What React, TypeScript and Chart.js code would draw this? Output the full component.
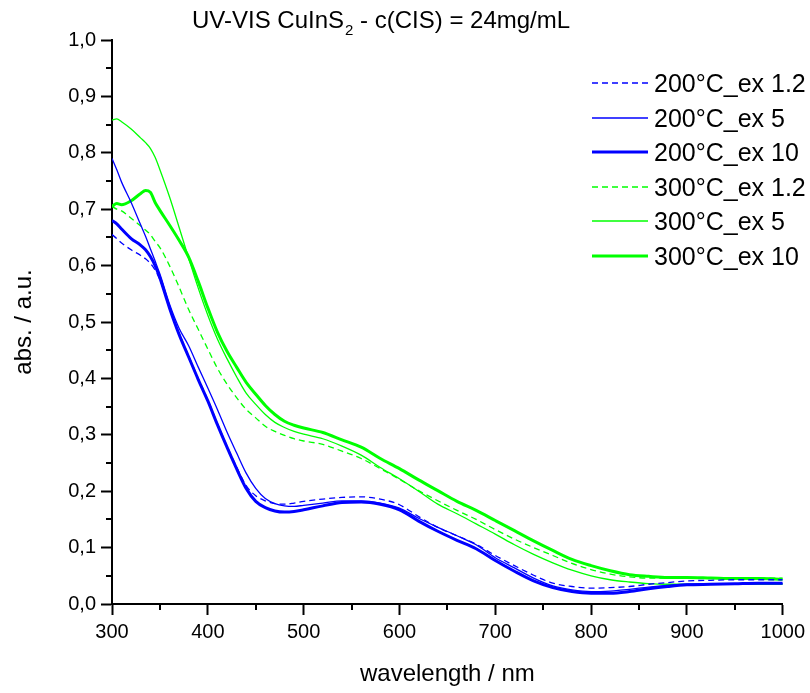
import React, { useEffect, useRef } from "react";
import { Chart, registerables } from "chart.js";

Chart.register(...registerables);

const FONT = '"Liberation Sans", Arial, sans-serif';

const wavelengths = [300, 305, 310, 320, 330, 335, 340, 345, 350, 360, 370, 380, 390, 400, 410, 420, 430, 440, 450, 460, 470, 480, 490, 500, 520, 540, 560, 580, 600, 620, 640, 660, 680, 700, 720, 740, 760, 780, 800, 820, 840, 860, 880, 900, 925, 950, 975, 1000];

const blue12 = [0.655, 0.648, 0.640, 0.628, 0.618, 0.612, 0.604, 0.592, 0.575, 0.525, 0.480, 0.440, 0.400, 0.362, 0.320, 0.280, 0.243, 0.210, 0.192, 0.183, 0.178, 0.177, 0.179, 0.182, 0.186, 0.189, 0.190, 0.186, 0.176, 0.155, 0.136, 0.121, 0.106, 0.086, 0.068, 0.051, 0.037, 0.031, 0.028, 0.029, 0.031, 0.035, 0.038, 0.041, 0.042, 0.043, 0.043, 0.043];
const blue5 = [0.790, 0.770, 0.748, 0.712, 0.672, 0.652, 0.630, 0.608, 0.585, 0.532, 0.489, 0.458, 0.420, 0.383, 0.345, 0.305, 0.268, 0.232, 0.205, 0.187, 0.178, 0.174, 0.173, 0.175, 0.179, 0.183, 0.183, 0.179, 0.170, 0.152, 0.136, 0.121, 0.105, 0.082, 0.064, 0.046, 0.032, 0.025, 0.022, 0.023, 0.026, 0.030, 0.033, 0.035, 0.036, 0.036, 0.036, 0.036];
const blue10 = [0.680, 0.674, 0.665, 0.648, 0.636, 0.628, 0.616, 0.600, 0.578, 0.525, 0.478, 0.438, 0.398, 0.360, 0.318, 0.278, 0.240, 0.205, 0.182, 0.171, 0.165, 0.163, 0.164, 0.167, 0.174, 0.180, 0.181, 0.177, 0.167, 0.147, 0.129, 0.113, 0.098, 0.077, 0.058, 0.041, 0.029, 0.022, 0.019, 0.019, 0.022, 0.027, 0.031, 0.034, 0.035, 0.036, 0.037, 0.037];
const green12 = [0.705, 0.700, 0.697, 0.684, 0.670, 0.663, 0.655, 0.643, 0.632, 0.600, 0.562, 0.522, 0.487, 0.452, 0.418, 0.390, 0.366, 0.345, 0.330, 0.315, 0.306, 0.299, 0.293, 0.289, 0.283, 0.271, 0.258, 0.240, 0.221, 0.201, 0.183, 0.166, 0.150, 0.132, 0.115, 0.100, 0.086, 0.072, 0.061, 0.053, 0.048, 0.046, 0.046, 0.046, 0.046, 0.046, 0.046, 0.046];
const green5 = [0.858, 0.860, 0.855, 0.842, 0.826, 0.818, 0.808, 0.792, 0.770, 0.722, 0.668, 0.613, 0.560, 0.512, 0.470, 0.435, 0.403, 0.374, 0.354, 0.336, 0.322, 0.313, 0.306, 0.301, 0.293, 0.280, 0.264, 0.242, 0.222, 0.200, 0.177, 0.160, 0.142, 0.124, 0.105, 0.088, 0.073, 0.060, 0.050, 0.043, 0.039, 0.036, 0.035, 0.035, 0.035, 0.035, 0.035, 0.035];
const green10 = [0.705, 0.710, 0.708, 0.715, 0.728, 0.733, 0.730, 0.712, 0.698, 0.672, 0.645, 0.615, 0.572, 0.525, 0.482, 0.448, 0.420, 0.393, 0.372, 0.352, 0.336, 0.324, 0.317, 0.312, 0.304, 0.291, 0.278, 0.258, 0.240, 0.220, 0.201, 0.182, 0.166, 0.148, 0.130, 0.112, 0.095, 0.079, 0.068, 0.059, 0.052, 0.049, 0.047, 0.047, 0.046, 0.045, 0.045, 0.044];

const seriesLabels = ["200°C_ex 1.2", "200°C_ex 5", "200°C_ex 10", "300°C_ex 1.2", "300°C_ex 5", "300°C_ex 10"];
const seriesValues = [blue12, blue5, blue10, green12, green5, green10];
const seriesColors = ["#0000FF", "#0000FF", "#0000FF", "#00FF00", "#00FF00", "#00FF00"];
const seriesWidths = [1.3, 1.3, 3, 1.3, 1.3, 3];
const seriesDashes = [[6, 4], [], [], [6, 4], [], []];

const xMajorTicks = [300, 400, 500, 600, 700, 800, 900, 1000];
const xMinorTicks = [350, 450, 550, 650, 750, 850, 950];
const yMinorTicks = [0.05, 0.15, 0.25, 0.35, 0.45, 0.55, 0.65, 0.75, 0.85, 0.95];

const titleMain = "UV-VIS CuInS";
const titleSub = "2";
const titleRest = " - c(CIS) = 24mg/mL";

const minorTicksPlugin = {
  id: "minorTicks",
  afterDraw(chart: any) {
    const { ctx, scales } = chart;
    const x = scales.x;
    const y = scales.y;
    ctx.save();
    ctx.strokeStyle = "#000";
    ctx.lineWidth = 2;
    for (const v of xMinorTicks) {
      const px = Math.round(x.getPixelForValue(v));
      ctx.beginPath();
      ctx.moveTo(px, x.top);
      ctx.lineTo(px, x.top + 6);
      ctx.stroke();
    }
    for (const v of yMinorTicks) {
      const py = Math.round(y.getPixelForValue(v));
      ctx.beginPath();
      ctx.moveTo(y.right, py);
      ctx.lineTo(y.right - 6, py);
      ctx.stroke();
    }
    ctx.restore();
  },
};

const titlePlugin = {
  id: "customTitle",
  afterDraw(chart: any) {
    const { ctx } = chart;
    ctx.save();
    ctx.fillStyle = "#000";
    ctx.textBaseline = "alphabetic";
    ctx.font = `24px ${FONT}`;
    let x = 192;
    const base = 28;
    ctx.fillText(titleMain, x, base);
    x += ctx.measureText(titleMain).width;
    ctx.font = `15px ${FONT}`;
    ctx.fillText(titleSub, x + 1, base + 7);
    x += ctx.measureText(titleSub).width + 1;
    ctx.font = `24px ${FONT}`;
    ctx.fillText(titleRest, x, base);
    ctx.restore();
  },
};

const legendPlugin = {
  id: "customLegend",
  afterDraw(chart: any) {
    const { ctx } = chart;
    const datasets = chart.data.datasets;
    ctx.save();
    ctx.font = `25px ${FONT}`;
    ctx.fillStyle = "#000";
    ctx.textBaseline = "alphabetic";
    datasets.forEach((ds: any, i: number) => {
      const yy = 83 + i * 34.5;
      ctx.strokeStyle = ds.borderColor;
      ctx.lineWidth = ds.borderWidth;
      ctx.setLineDash(ds.borderDash || []);
      ctx.beginPath();
      ctx.moveTo(592, Math.round(yy));
      ctx.lineTo(648, Math.round(yy));
      ctx.stroke();
      ctx.setLineDash([]);
      ctx.fillText(ds.label, 654, yy + 9);
    });
    ctx.restore();
  },
};

export default function App() {
  const canvasRef = useRef<HTMLCanvasElement | null>(null);

  useEffect(() => {
    if (!canvasRef.current) return;
    Chart.defaults.font.family = FONT;
    Chart.defaults.color = "#000";
    const datasets = seriesLabels.map((label, i) => ({
      label,
      data: wavelengths.map((w, j) => ({ x: w, y: seriesValues[i][j] })),
      borderColor: seriesColors[i],
      backgroundColor: seriesColors[i],
      borderWidth: seriesWidths[i],
      borderDash: seriesDashes[i],
      pointRadius: 0,
      fill: false,
      cubicInterpolationMode: "monotone" as const,
    }));
    const chart = new Chart(canvasRef.current, {
      type: "line",
      data: { datasets },
      options: {
        animation: false,
        responsive: false,
        devicePixelRatio: 1,
        layout: { padding: { top: 40, right: 26, left: 0, bottom: 0 } },
        plugins: { legend: { display: false }, title: { display: false }, tooltip: { enabled: false } },
        scales: {
          x: {
            type: "linear",
            min: 300,
            max: 1000,
            afterFit: (s: any) => { s.height = 89; },
            afterBuildTicks: (s: any) => { s.ticks = xMajorTicks.map((v) => ({ value: v })); },
            ticks: { font: { size: 20 }, padding: 5, color: "#000", maxRotation: 0, callback: (v: any) => String(v) },
            grid: { drawOnChartArea: false, drawTicks: true, tickLength: 11, tickWidth: 2, tickColor: "#000", color: "#000" },
            border: { display: true, width: 2, color: "#000" },
            title: { display: true, text: "wavelength / nm", font: { size: 24 }, color: "#000", padding: { top: 0, bottom: 4 } },
          },
          y: {
            type: "linear",
            min: 0,
            max: 1,
            afterFit: (s: any) => { s.width = 112; },
            ticks: {
              stepSize: 0.1,
              font: { size: 20 },
              padding: 5,
              color: "#000",
              callback: (v: any) => Number(v).toFixed(1).replace(".", ","),
            },
            grid: { drawOnChartArea: false, drawTicks: true, tickLength: 11, tickWidth: 2, tickColor: "#000", color: "#000" },
            border: { display: true, width: 2, color: "#000" },
            title: { display: true, text: "abs. / a.u.", font: { size: 24 }, color: "#000", padding: { top: 10, bottom: 0 } },
          },
        },
      },
      plugins: [minorTicksPlugin, titlePlugin, legendPlugin],
    });
    return () => chart.destroy();
  }, []);

  return (
    <div style={{ position: "absolute", left: 0, top: 0, width: 810, height: 693, background: "#fff" }}>
      <canvas ref={canvasRef} width={810} height={693} style={{ width: 810, height: 693 }} />
    </div>
  );
}
